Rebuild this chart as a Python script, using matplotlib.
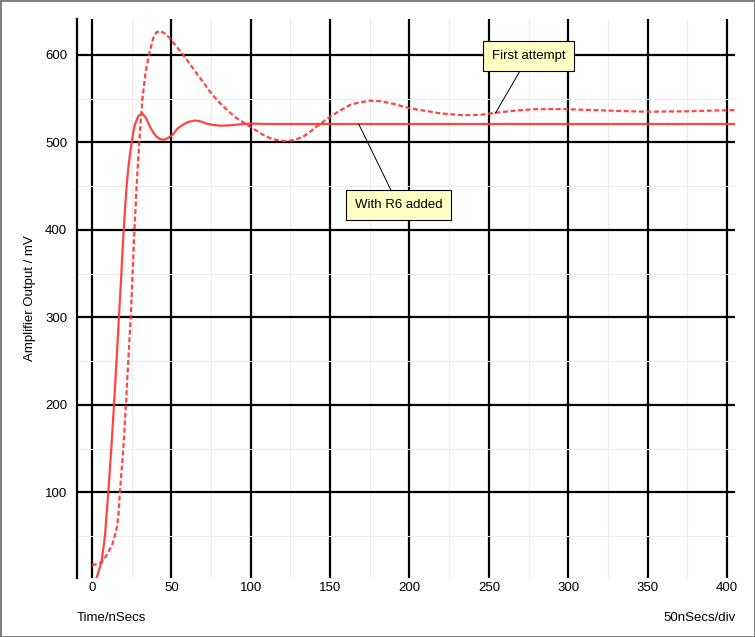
import matplotlib
matplotlib.use("Agg")
import matplotlib.pyplot as plt
from matplotlib.ticker import MultipleLocator

# values
t_r6 = [2.5, 4, 6, 8.2, 10.3, 12.2, 13.9, 15.5, 17, 18.4, 19.7, 21, 22, 23, 24, 25, 26, 27,
        29.2, 31.7, 34, 36.5, 38.7, 40.7, 43, 45.5, 48, 51, 54, 57.5, 61, 65,
        68.5, 72, 76, 81, 87, 93, 100, 110, 125, 150, 200, 250, 300, 350, 405]
v_r6 = [0, 8, 20, 50, 100, 150, 200, 250, 300, 345, 390, 428, 453, 472, 487, 499, 511, 520,
        530, 533, 528, 518, 511, 506.5, 503.5, 503, 505, 509, 516, 520.5, 523.5, 525,
        524, 521.5, 520, 519, 519.5, 520.5, 521.5, 521, 521, 521, 521, 521, 521, 521, 521]

t_first = [0, 3, 6.1, 9.2, 11, 13, 14.5, 15.7, 16.6, 17.6, 19.7, 21.4, 22.9, 24.4, 25.5, 26.8,
           28.1, 29.8, 31.9, 33.8, 35.9, 38.6, 40.5, 42.8, 45.5, 49.1, 53, 57.5,
           61.5, 65.9, 70, 74.3, 78.5, 82.7, 87, 91.1, 95.5, 99.5, 104, 107.9, 112,
           116.3, 120, 123.7, 128, 133.1, 137, 141.5, 146, 150, 156, 162.5, 168,
           175, 182, 190, 200, 210, 220, 234, 245, 255, 268, 280, 297, 314, 330,
           350, 375, 405]
v_first = [16.5, 18, 20, 28, 34, 41, 51, 60, 72, 100, 148, 200, 251, 300, 345, 400,
           449, 500, 552, 580, 600, 619, 625.5, 627.5, 625, 619, 610, 600,
           590, 579, 569, 558, 549, 541, 534, 527.6, 522.5, 518, 513, 508.5, 505,
           502.7, 501.8, 501.6, 503, 506.5, 511.5, 518, 524, 529.4, 536, 542.8, 545.5,
           547.5, 547, 544, 539, 536, 533, 531, 531.5, 534, 536.5, 538, 538, 537, 536,
           535, 535.5, 537]

plt.rcParams["font.family"] = ["Liberation Sans", "DejaVu Sans"]
plt.rcParams["font.size"] = 9.5

fig = plt.figure(figsize=(7.55, 6.37), dpi=100)
fig.patch.set_facecolor("white")
fig.patch.set_edgecolor("#808080")
fig.patch.set_linewidth(2)

ax = fig.add_axes([77 / 755, 59 / 637, 658 / 755, 559 / 637])
ax.set_xlim(-9.4, 405)
ax.set_ylim(2, 641)

ax.xaxis.set_major_locator(MultipleLocator(50))
ax.xaxis.set_minor_locator(MultipleLocator(25))
ax.yaxis.set_major_locator(MultipleLocator(100))
ax.yaxis.set_minor_locator(MultipleLocator(50))
ax.grid(which="minor", color="#ececec", lw=0.8)
ax.grid(which="major", color="black", lw=1.6)
ax.set_axisbelow(True)

for s in ["top", "right", "bottom"]:
    ax.spines[s].set_visible(False)
ax.spines["left"].set_linewidth(1.6)
ax.tick_params(which="both", length=0)
ax.tick_params(axis="x", pad=3)
ax.tick_params(axis="y", pad=7)

red = "#ff3a3a"
ax.plot(t_r6, v_r6, color=red, lw=1.6, alpha=0.95, zorder=3)
ax.plot(t_first, v_first, color=red, lw=1.6, alpha=0.95, ls=(0, (2.2, 1.2)), zorder=3)

box = dict(boxstyle="square,pad=0.68", fc="#ffffc4", ec="black", lw=0.8)
arrow = dict(arrowstyle="-", color="black", lw=0.7, shrinkA=0, shrinkB=0)
ax.annotate("First attempt", xy=(254, 533), xytext=(275, 598.5),
            ha="center", va="center", bbox=box, arrowprops=arrow, zorder=5)
ax.annotate("With R6 added", xy=(168, 521), xytext=(193, 428),
            ha="center", va="center", bbox=box, arrowprops=arrow, zorder=5)

fig.text(30 / 755, 1 - 298 / 637, "Amplifier Output / mV", rotation=90,
         ha="center", va="center")
fig.text(77 / 755, 1 - 618 / 637, "Time/nSecs", ha="left", va="center")
fig.text(736 / 755, 1 - 618 / 637, "50nSecs/div", ha="right", va="center")

fig.savefig("out.png", dpi=100)
